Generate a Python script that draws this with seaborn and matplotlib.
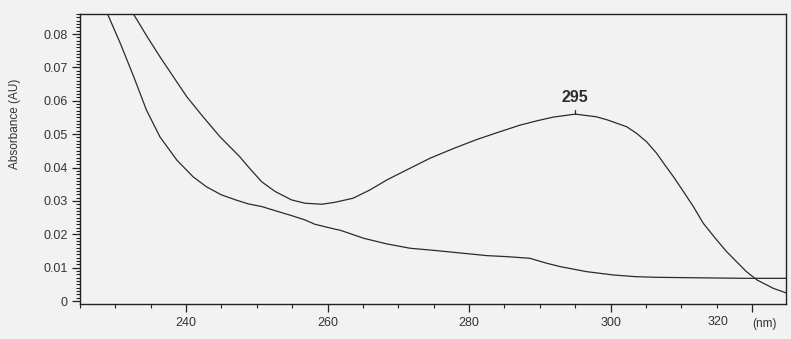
import matplotlib
matplotlib.use("Agg")
import matplotlib.pyplot as plt
import seaborn as sns
import pandas as pd
from matplotlib.ticker import MultipleLocator
import matplotlib.transforms as mtransforms

# --- data ---
sample_wl = [232.5, 234.5, 236.3, 238.2, 240.1, 242.4, 244.8, 247.6, 249.0, 250.7,
             252.6, 254.9, 256.8, 259.2, 260.8, 261.3, 263.6, 266.0, 268.4, 271.2,
             274.5, 277.8, 281.1, 283.9, 287.2, 289.6, 291.9, 295.0, 298.0, 299.5,
             302.3, 303.7, 305.1, 306.5, 307.7, 308.9, 310.3, 311.7, 313.1, 315.0,
             316.4, 317.8, 319.2, 320.7, 323.0, 325.0]
sample_abs = [0.0862, 0.0792, 0.0732, 0.0672, 0.0612, 0.0552, 0.0492, 0.0432, 0.0397, 0.0357,
              0.0328, 0.0303, 0.0293, 0.0290, 0.0295, 0.0297, 0.0308, 0.0333, 0.0363, 0.0393,
              0.0428, 0.0457, 0.0484, 0.0504, 0.0527, 0.0540, 0.0551, 0.0560, 0.0552, 0.0543,
              0.0522, 0.0502, 0.0477, 0.0443, 0.0407, 0.0372, 0.0328, 0.0283, 0.0233, 0.0183,
              0.0148, 0.0118, 0.0088, 0.0063, 0.0038, 0.0023]

blank_wl = [228.9, 230.7, 232.6, 234.4, 236.3, 238.7, 241.0, 242.9, 245.0,
            247.0, 248.8, 250.7, 253.0, 254.9, 256.8, 258.2, 261.1, 261.8, 265.1,
            268.4, 271.7, 275.4, 279.2, 282.5, 285.3, 288.6, 291.0, 292.9, 296.6,
            300.4, 303.5, 306.5, 318.8, 325.0]
blank_abs = [0.0860, 0.0772, 0.0672, 0.0572, 0.0492, 0.0422, 0.0372, 0.0342, 0.0318,
             0.0303, 0.0291, 0.0283, 0.0268, 0.0256, 0.0243, 0.0230, 0.0215, 0.0212, 0.0188,
             0.0171, 0.0158, 0.0151, 0.0143, 0.0136, 0.0133, 0.0128, 0.0113, 0.0103, 0.0088,
             0.0078, 0.0073, 0.0071, 0.0068, 0.0068]

peak_wl = 295.0
peak_label = "295"
x_ticks = [240, 260, 280, 300, 320]
x_ticklabels = ["240", "260", "280", "300", "320"]
y_ticks = [0, 0.01, 0.02, 0.03, 0.04, 0.05, 0.06, 0.07, 0.08]
y_ticklabels = ["0", "0.01", "0.02", "0.03", "0.04", "0.05", "0.06", "0.07", "0.08"]

sns.set_theme(style="white")
plt.rcParams['font.family'] = ['Liberation Sans', 'DejaVu Sans']

bg = "#f2f2f2"
ink = "#2b2b2b"
fig = plt.figure(figsize=(7.91, 3.39), dpi=100, facecolor=bg)
ax = fig.add_axes([0.1011, 0.1032, 0.8926, 0.8555], facecolor=bg)

df_s = pd.DataFrame({"wl": sample_wl, "A": sample_abs})
df_b = pd.DataFrame({"wl": blank_wl, "A": blank_abs})
sns.lineplot(data=df_s, x="wl", y="A", ax=ax, color=ink, lw=0.9, sort=False)
sns.lineplot(data=df_b, x="wl", y="A", ax=ax, color=ink, lw=0.9, sort=False)

ax.set_xlim(225.0, 324.8)
ax.set_ylim(-0.0009, 0.086)
ax.set_xticks(x_ticks)
# the last label (320) sits left of its tick in the reference, making room for "(nm)"
ax.set_xticklabels(x_ticklabels[:-1] + [""])
ax.set_yticks(y_ticks)
ax.set_yticklabels(y_ticklabels)
ax.xaxis.set_minor_locator(MultipleLocator(5))
ax.yaxis.set_minor_locator(MultipleLocator(0.001))
ax.tick_params(axis="both", which="major", direction="out", length=6, width=0.9,
               color="#222222", labelsize=9, labelcolor="#333333", pad=3)
ax.tick_params(axis="both", which="minor", direction="out", length=3, width=0.8,
               color="#222222")
ax.tick_params(axis="x", which="major", pad=3)
ax.tick_params(bottom=True, left=True, which="both")
for s in ax.spines.values():
    s.set_color("#222222")
    s.set_linewidth(1.0)

ax.set_xlabel("")
ax.set_ylabel("")

# shifted "320" label, placed in the tick-label row
lbl_tr = mtransforms.blended_transform_factory(ax.transData, fig.transFigure)
ax.text(x_ticks[-1] - 4.8, 1 - 322 / 339, x_ticklabels[-1], transform=lbl_tr,
        ha="center", va="center", fontsize=9, color="#333333")

fig.text(0.019, 0.635, "Absorbance (AU)", rotation=90, ha="center", va="center",
         fontsize=8.5, color="#333333")
fig.text(0.967, 1 - 324 / 339, "(nm)", ha="center", va="center", fontsize=8.5,
         color="#333333")

# peak annotation
peak_val = sample_abs[sample_wl.index(peak_wl)]
ax.plot([peak_wl, peak_wl], [peak_val, peak_val + 0.0011], color=ink, lw=0.9)
ax.text(peak_wl, peak_val + 0.0026, peak_label, ha="center", va="bottom",
        fontsize=11.5, fontweight="bold", color=ink)

fig.savefig("out.png", dpi=100, facecolor=bg)
